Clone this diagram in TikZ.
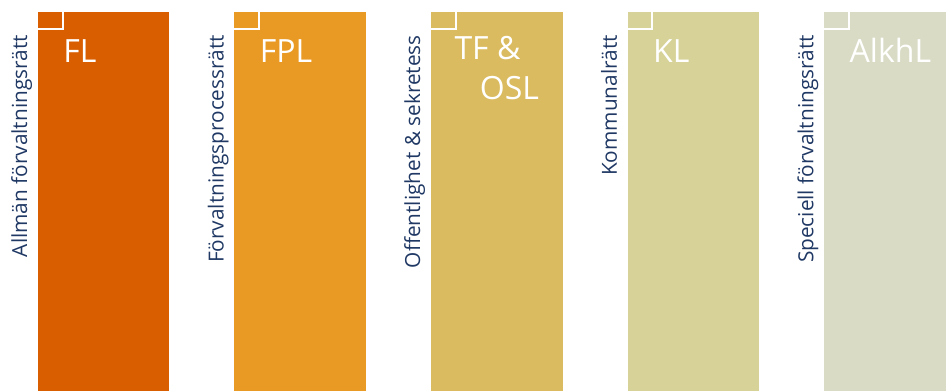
\documentclass[tikz,border=0pt]{standalone}
\usepackage{fontspec}
\setmainfont{Open Sans}
\definecolor{cFL}{HTML}{D95E00}
\definecolor{cFPL}{HTML}{E99A24}
\definecolor{cTF}{HTML}{DABB5F}
\definecolor{cKL}{HTML}{D7D398}
\definecolor{cAL}{HTML}{D9DBC5}
\definecolor{labelblue}{HTML}{1F3864}
\tikzset{
  colbox/.style={fill=#1, draw=none, inner sep=0pt, outer sep=0pt, minimum width=98.7pt, minimum height=292pt, anchor=north west},
  corner/.style={draw=white, line width=1.5pt},
  sidelabel/.style={rotate=90, anchor=base east, inner sep=0pt, text=labelblue, font=\fontsize{15.6}{18}\selectfont},
  boxtext/.style={anchor=base west, inner sep=0pt, text=white, font=\fontsize{24}{30}\selectfont, align=left},
}
\begin{document}
\begin{tikzpicture}[x=0.75pt,y=-0.75pt]
\useasboundingbox (0,0) rectangle (946,390);
\clip (0,0) rectangle (946,390);
% boxes
\node[colbox=cFL]  (b1) at (37.7,12.3) {};
\node[colbox=cFPL] (b2) at (234.3,12.3) {};
\node[colbox=cTF]  (b3) at (430.9,12.3) {};
\node[colbox=cKL]  (b4) at (627.5,12.3) {};
\node[colbox=cAL]  (b5) at (824.1,12.3) {};
% corner marks
\foreach \b in {b1,b2,b3,b4,b5}{
  \draw[corner] ([xshift=18.6pt]\b.north west) -- ([xshift=18.6pt,yshift=-12.8pt]\b.north west) -- ([yshift=-12.8pt]\b.north west);
}
% side labels
\node[sidelabel] (l1) at ([xshift=-8pt,yshift=-17pt]b1.north west) {Allmän förvaltningsrätt};
\node[sidelabel] (l2) at ([xshift=-8pt,yshift=-17pt]b2.north west) {Förvaltningsprocessrätt};
\node[sidelabel] (l3) at ([xshift=-8pt,yshift=-17pt]b3.north west) {Offentlighet \& sekretess};
\node[sidelabel] (l4) at ([xshift=-8pt,yshift=-17pt]b4.north west) {Kommunalrätt};
\node[sidelabel] (l5) at ([xshift=-8pt,yshift=-17pt]b5.north west) {Speciell förvaltningsrätt};
% box texts
\node[boxtext] (t1) at ([xshift=19pt,yshift=-38pt]b1.north west) {FL};
\node[boxtext] (t2) at ([xshift=19pt,yshift=-38pt]b2.north west) {FPL};
\node[boxtext,anchor=north west] (t3) at ([xshift=17.5pt,yshift=-18pt]b3.north west) {TF \&\\\hspace*{19pt}OSL};
\node[boxtext] (t4) at ([xshift=19pt,yshift=-38pt]b4.north west) {KL};
\node[boxtext] (t5) at ([xshift=19pt,yshift=-38pt]b5.north west) {AlkhL};
\end{tikzpicture}
\end{document}
